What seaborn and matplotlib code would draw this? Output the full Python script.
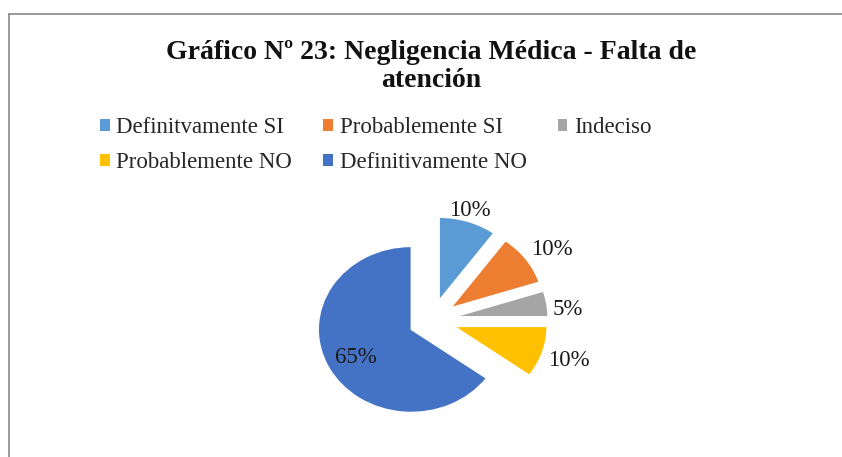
import numpy as np
import matplotlib
matplotlib.use("Agg")
import matplotlib.pyplot as plt
import seaborn as sns
from matplotlib.patches import Patch
from matplotlib.lines import Line2D

categories = ["Definitvamente SI", "Probablemente SI", "Indeciso",
              "Probablemente NO", "Definitivamente NO"]
values = [10, 10, 5, 10, 65]
pct_labels = ["10%", "10%", "5%", "10%", "65%"]
colors = ["#5B9BD5", "#ED7D31", "#A5A5A5", "#FFC000", "#4472C4"]
title = "Gráfico Nº 23: Negligencia Médica - Falta de\natención"

sns.set_theme(style="white")
plt.rcParams["font.family"] = ["Liberation Serif", "DejaVu Serif"]

W, H = 842, 457
fig = plt.figure(figsize=(W / 100, H / 100), dpi=100)
ax = fig.add_axes([0, 0, 1, 1])

explode = [0.25] * len(values)
wedges, _ = ax.pie(values, colors=colors, startangle=90, counterclock=False,
                   explode=explode, wedgeprops=dict(edgecolor="white", linewidth=1))

# horizontally stretched pie like the reference
cx, cy, rx, ry = 432, 320, 93, 83
ax.set_aspect("auto")
ax.set_xlim(-cx / rx, (W - cx) / rx)
ax.set_ylim(-(H - cy) / ry, cy / ry)
ax.axis("off")

# "outside end" labels for the small slices, inside label for the large one
for w, lab, v in zip(wedges, pct_labels, values):
    th = np.deg2rad((w.theta1 + w.theta2) / 2)
    x0, y0 = w.center
    c, s = np.cos(th), np.sin(th)
    if v >= 50:
        ax.text(x0 + 0.67 * c, y0 + 0.67 * s, lab, ha="center", va="center_baseline",
                fontsize=16.5, color="#1a1a1a")
        continue
    ha = "center" if abs(c) < 0.4 else ("left" if c > 0 else "right")
    va = "center_baseline" if abs(s) < 0.4 else ("bottom" if s > 0 else "top")
    dy = 5 * s - 4 if va == "center_baseline" else 2 * s - 2
    ax.annotate(lab, (x0 + c, y0 + s), xytext=(6 * c, dy),
                textcoords="offset pixels", ha=ha, va=va, fontsize=16.5, color="#1a1a1a")

fig.text(431 / W, 1 - 40 / H, title, ha="center", va="top",
         fontsize=20, fontweight="bold", linespacing=1.15, color="#111111")

handles = [Patch(facecolor=c, edgecolor="none") for c in colors]
order = [0, 3, 1, 4, 2]
leg = fig.legend([handles[i] for i in order], [categories[i] for i in order],
                 loc="upper left", bbox_to_anchor=(100 / W, 1 - 117 / H),
                 ncol=3, frameon=False, fontsize=16.5, borderpad=0, borderaxespad=0,
                 handlelength=0.42, handleheight=0.42, handletextpad=0.3,
                 columnspacing=1.35, labelspacing=0.63)
for t in leg.get_texts():
    t.set_color("#262626")

# chart frame (left and top edges visible)
fig.add_artist(Line2D([9 / W, 9 / W], [0, 1 - 14 / H], transform=fig.transFigure,
                      color="#888888", linewidth=1.2))
fig.add_artist(Line2D([9 / W, 1], [1 - 14 / H, 1 - 14 / H], transform=fig.transFigure,
                      color="#888888", linewidth=1.2))

fig.savefig("out.png", dpi=100)
